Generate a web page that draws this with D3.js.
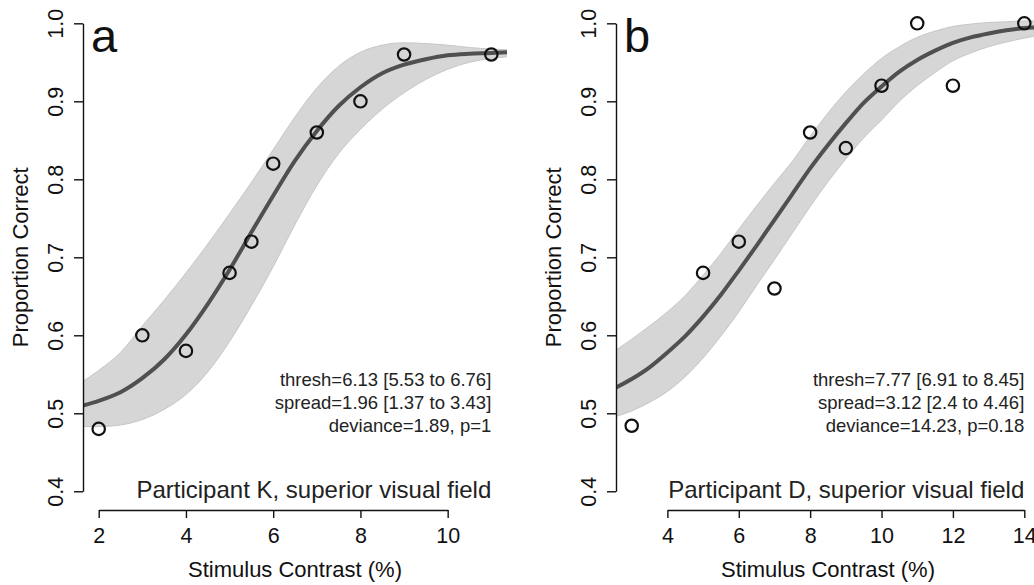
<!DOCTYPE html>
<html>
<head>
<meta charset="utf-8">
<script src="https://cdn.jsdelivr.net/npm/d3@7"></script>
<style>
  body { margin: 0; background: #fff; }
  svg { font-family: "Liberation Sans", Arial, Helvetica, sans-serif; }
</style>
</head>
<body>
<div id="chart"></div>
<script>
// observed proportions
var contrastA = [2, 3, 4, 5, 5.5, 6, 7, 8, 9, 11];
var propA = [0.48, 0.60, 0.58, 0.68, 0.72, 0.82, 0.86, 0.90, 0.96, 0.96];
var contrastB = [3, 5, 6, 7, 8, 9, 10, 11, 12, 14];
var propB = [0.484, 0.68, 0.72, 0.66, 0.86, 0.84, 0.92, 1.0, 0.92, 1.0];

// fitted curve + confidence band
var bandXA = [1.64, 2, 2.5, 3, 3.5, 4, 4.5, 5, 5.5, 6, 6.5, 7, 7.5, 8, 8.5, 9, 9.5, 10, 10.5, 11, 11.36];
var fitA   = [.510, .516, .527, .545, .569, .601, .640, .684, .732, .779, .824, .862, .894, .918, .936, .947, .954, .959, .961, .962, .963];
var upperA = [.541, .555, .578, .612, .645, .680, .717, .756, .796, .838, .880, .917, .945, .963, .972, .975, .974, .972, .969, .967, .966];
var lowerA = [.483, .483, .485, .492, .505, .524, .553, .592, .638, .688, .742, .792, .833, .864, .890, .911, .928, .941, .950, .955, .957];

var bandXB = [2.56, 3, 3.5, 4, 4.5, 5, 5.5, 6, 6.5, 7, 7.5, 8, 8.5, 9, 9.5, 10, 10.5, 11, 11.5, 12, 12.5, 13, 13.5, 14, 14.44];
var fitB   = [.533, .544, .559, .578, .599, .624, .652, .683, .715, .748, .781, .814, .844, .872, .898, .919, .938, .953, .965, .975, .982, .987, .991, .994, .995];
var upperB = [.581, .595, .612, .630, .651, .677, .705, .736, .766, .795, .823, .855, .885, .912, .935, .955, .970, .982, .990, .996, .999, 1.001, 1.002, 1.003, 1.003];
var lowerB = [.496, .503, .514, .528, .547, .571, .599, .630, .664, .697, .731, .765, .797, .826, .853, .876, .900, .920, .937, .952, .962, .970, .976, .981, .985];

// ticks and labels
var xTicksA = [2, 4, 6, 8, 10];
var xTicksB = [4, 6, 8, 10, 12, 14];
var yTicks = [0.4, 0.5, 0.6, 0.7, 0.8, 0.9, 1.0];
var statsA = ["thresh=6.13 [5.53 to 6.76]", "spread=1.96 [1.37 to 3.43]", "deviance=1.89, p=1"];
var statsB = ["thresh=7.77 [6.91 to 8.45]", "spread=3.12 [2.4 to 4.46]", "deviance=14.23, p=0.18"];
var titleA = "Participant K, superior visual field";
var titleB = "Participant D, superior visual field";

var width = 1034;
var height = 585;

var svg = d3.select("#chart").append("svg")
    .attr("width", width)
    .attr("height", height);

svg.append("rect").attr("width", width).attr("height", height).attr("fill", "#fff");

function panel(opt) {
    var left = opt.left, right = opt.left + 424;
    var top = 4.6, bottom = 510;

    // R style 4% padding around the data range
    var ext = d3.extent(opt.cx);
    var pad = (ext[1] - ext[0]) * 0.04;
    var x = d3.scaleLinear().domain([ext[0] - pad, ext[1] + pad]).range([left, right]);
    var y = d3.scaleLinear().domain([0.4 - 0.024, 1.0 + 0.024]).range([bottom, top]);

    var g = svg.append("g");

    g.append("clipPath").attr("id", "clip-" + opt.id)
        .append("rect")
        .attr("x", left).attr("y", top)
        .attr("width", right - left).attr("height", bottom - top);

    var plot = g.append("g").attr("clip-path", "url(#clip-" + opt.id + ")");

    var band = d3.area()
        .x(function(d, i) { return x(opt.bx[i]); })
        .y0(function(d, i) { return y(opt.lower[i]); })
        .y1(function(d) { return y(d); })
        .curve(d3.curveMonotoneX);

    plot.append("path")
        .datum(opt.upper)
        .attr("d", band)
        .attr("fill", "#d6d6d6")
        .attr("stroke", "#c6c6c6")
        .attr("stroke-width", 1);

    var line = d3.line()
        .x(function(d, i) { return x(opt.bx[i]); })
        .y(function(d) { return y(d); })
        .curve(d3.curveMonotoneX);

    plot.append("path")
        .datum(opt.fit)
        .attr("d", line)
        .attr("fill", "none")
        .attr("stroke", "#505050")
        .attr("stroke-width", 4);

    g.append("g").selectAll("circle")
        .data(opt.cy)
        .enter()
        .append("circle")
        .attr("cx", function(d, i) { return x(opt.cx[i]); })
        .attr("cy", function(d) { return y(d); })
        .attr("r", 6.2)
        .attr("fill", "none")
        .attr("stroke", "#111")
        .attr("stroke-width", 2.2);

    // axes only span the tick range, like base R
    var xa = x.copy().domain(d3.extent(opt.xticks)).range(d3.extent(opt.xticks).map(x));
    var ya = y.copy().domain(d3.extent(yTicks)).range(d3.extent(yTicks).map(y).reverse()).domain([1.0, 0.4]);

    var xAxis = g.append("g")
        .attr("transform", "translate(0," + bottom + ")")
        .call(d3.axisBottom(xa).tickValues(opt.xticks).tickSize(8).tickSizeOuter(0).tickFormat(d3.format("d")));
    xAxis.selectAll("text")
        .attr("y", 33).attr("dy", 0)
        .attr("font-size", 21.5).attr("fill", "#111");

    var yAxis = g.append("g")
        .attr("transform", "translate(" + left + ",0)")
        .call(d3.axisLeft(ya).tickValues(yTicks).tickSize(9).tickSizeOuter(0).tickFormat(d3.format(".1f")));
    yAxis.selectAll("text")
        .attr("x", 0).attr("y", -20).attr("dy", 0)
        .attr("transform", "rotate(-90)")
        .attr("text-anchor", "middle")
        .attr("font-size", 21.5).attr("fill", "#111");

    [xAxis, yAxis].forEach(function(a) {
        a.selectAll("path, line").attr("stroke", "#111").attr("stroke-width", 1.4);
    });

    g.append("text")
        .attr("x", left + 8).attr("y", 52)
        .attr("font-size", 47).attr("fill", "#111")
        .text(opt.letter);

    g.append("text")
        .attr("transform", "translate(" + (left - 55) + "," + y(0.7) + ") rotate(-90)")
        .attr("text-anchor", "middle")
        .attr("font-size", 22).attr("fill", "#111")
        .text("Proportion Correct");

    g.append("text")
        .attr("x", (left + right) / 2).attr("y", 577)
        .attr("text-anchor", "middle")
        .attr("font-size", 22).attr("fill", "#111")
        .text("Stimulus Contrast (%)");

    var xr = x(ext[1]);
    g.append("g").selectAll("text")
        .data(opt.stats)
        .enter()
        .append("text")
        .attr("x", xr)
        .attr("y", function(d, i) { return 386 + i * 23; })
        .attr("text-anchor", "end")
        .attr("font-size", 18.5).attr("fill", "#222")
        .text(function(d) { return d; });

    g.append("text")
        .attr("x", xr).attr("y", 498)
        .attr("text-anchor", "end")
        .attr("font-size", 24).attr("fill", "#222")
        .text(opt.title);
}

panel({id: "a", letter: "a", left: 83, cx: contrastA, cy: propA, bx: bandXA, fit: fitA, upper: upperA, lower: lowerA, xticks: xTicksA, stats: statsA, title: titleA});
panel({id: "b", letter: "b", left: 616, cx: contrastB, cy: propB, bx: bandXB, fit: fitB, upper: upperB, lower: lowerB, xticks: xTicksB, stats: statsB, title: titleB});
</script>
</body>
</html>
